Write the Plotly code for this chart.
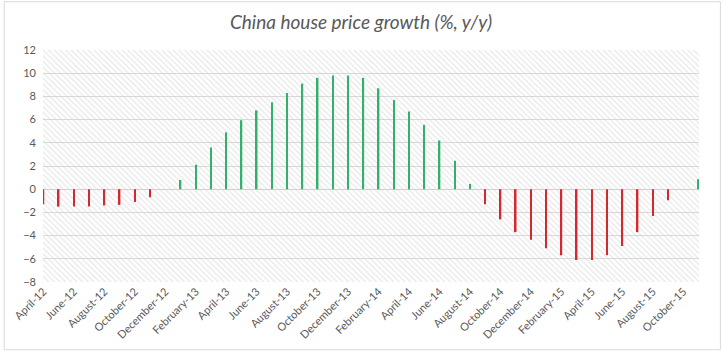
import plotly.graph_objects as go

months = ["April-12", "May-12", "June-12", "July-12", "August-12", "September-12", "October-12",
          "November-12", "December-12", "January-13", "February-13", "March-13", "April-13",
          "May-13", "June-13", "July-13", "August-13", "September-13", "October-13",
          "November-13", "December-13", "January-14", "February-14", "March-14", "April-14",
          "May-14", "June-14", "July-14", "August-14", "September-14", "October-14",
          "November-14", "December-14", "January-15", "February-15", "March-15", "April-15",
          "May-15", "June-15", "July-15", "August-15", "September-15", "October-15",
          "November-15"]
growth = [-1.3, -1.5, -1.5, -1.5, -1.4, -1.35, -1.1, -0.7, 0.0, 0.8, 2.1, 3.6, 4.9,
          5.95, 6.8, 7.5, 8.3, 9.1, 9.6, 9.8, 9.8, 9.6, 8.7, 7.7, 6.7, 5.55, 4.2, 2.45,
          0.45, -1.3, -2.6, -3.7, -4.35, -5.1, -5.7, -6.1, -6.1, -5.7, -4.9, -3.7, -2.3,
          -0.95, 0.0, 0.85]
tick_labels = months[::2]

GREEN = "#34b06c"
RED = "#d3282d"
x_idx = list(range(len(months)))
colors = [GREEN if v >= 0 else RED for v in growth]

W, H = 722, 353
L, R, T, B = 40, 23, 50, 70
y_min, y_max = -8, 12
x_lo, x_hi = -0.03, len(months) - 1 + 0.03

fig = go.Figure()
# hatched plot background
fig.add_trace(go.Bar(
    x=[(x_lo + x_hi) / 2], y=[y_max - y_min], base=[y_min], width=[x_hi - x_lo],
    marker=dict(color="rgba(0,0,0,0)", line=dict(width=0),
                pattern=dict(shape="\\", fgcolor="#cfcfcf", bgcolor="rgba(255,255,255,0)",
                             size=4, solidity=0.3)),
    hoverinfo="skip", showlegend=False))
fig.add_trace(go.Bar(
    x=x_idx, y=growth, width=0.1, marker=dict(color=colors, line=dict(width=0)),
    showlegend=False))

fig.update_layout(
    width=W, height=H, barmode="overlay",
    margin=dict(l=L, r=R, t=T, b=B),
    paper_bgcolor="white", plot_bgcolor="white",
    title=dict(text="<i>China house price growth (%, y/y)</i>", x=0.5, xanchor="center",
               y=1 - 22 / H, yanchor="middle",
               font=dict(family="Lato", size=19, color="#595959")),
    font=dict(family="Lato", size=11, color="#595959"),
    xaxis=dict(range=[x_lo, x_hi], tickmode="array", tickvals=x_idx[::2], ticktext=tick_labels,
               tickangle=-45, showgrid=False, zeroline=False, showline=False, ticks="",
               tickfont=dict(size=11, color="#595959")),
    yaxis=dict(range=[y_min, y_max], dtick=2, showgrid=True, gridcolor="#d9d9d9", gridwidth=1,
               zeroline=True, zerolinecolor="#d0d0d0", zerolinewidth=1, showline=False,
               ticks="", ticklabelstandoff=6, tickfont=dict(size=11, color="#595959")),
)

pw = W - L - R
ph = H - T - B
fig.add_shape(type="rect", xref="paper", yref="paper",
              x0=(1 - L) / pw, x1=(W - L - 1.5) / pw,
              y0=-(B - 2) / ph, y1=1 + (T - 1.5) / ph,
              line=dict(color="#d9d9d9", width=1), fillcolor="rgba(0,0,0,0)", layer="above")

fig.write_html("out.html")
